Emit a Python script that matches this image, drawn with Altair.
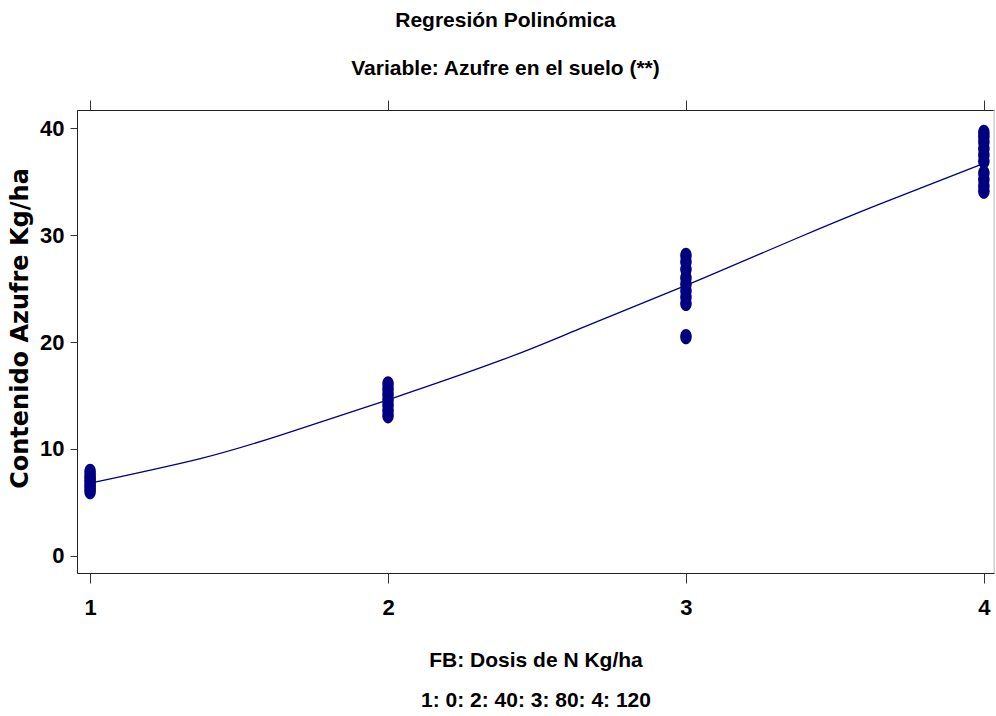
import altair as alt
import pandas as pd

# Observed data (FB dose level, sulphur content)
dosis = [1]*7 + [2]*7 + [3]*9 + [4]*10
azufre = [6.0, 6.3, 6.6, 6.9, 7.2, 7.5, 7.9,
          13.1, 13.6, 14.1, 14.6, 15.1, 15.6, 16.1,
          20.5, 23.6, 24.2, 24.8, 25.4, 26.0, 26.8, 27.5, 28.1,
          34.1, 34.6, 35.2, 35.8, 36.9, 37.5, 38.1, 38.7, 39.2, 39.6]

# Fitted polynomial curve
curva_x = [1, 1.37, 1.64, 2, 2.38, 2.64, 3, 3.38, 3.65, 4]
curva_y = [6.8, 9.1, 11.3, 14.6, 18.3, 21.2, 25.3, 29.8, 32.9, 36.7]

x_ticks = [1, 2, 3, 4]
y_ticks = [0, 10, 20, 30, 40]

pts = pd.DataFrame({"dosis": dosis, "azufre": azufre})
curve = pd.DataFrame({"dosis": curva_x, "azufre": curva_y})

W, H = 917, 463
FONT = "Liberation Sans"
NAVY = "#000080"

xscale = alt.Scale(domain=[0.956, 4.034], nice=False, zero=False)
yscale = alt.Scale(domain=[-1.6, 41.7], nice=False, zero=False)

ellipse = "M0,-1A0.76,1 0 1,1 0,1A0.76,1 0 1,1 0,-1Z"

y_axis = alt.Axis(orient="left", values=y_ticks, format="d",
                  tickSize=7, tickColor="#333333", domainColor="#222222",
                  labelFont=FONT, labelFontSize=22, labelFontWeight="bold",
                  labelColor="black", labelPadding=6, grid=False,
                  title="Contenido Azufre Kg/ha",
                  titleFont="DejaVu Sans", titleFontSize=24,
                  titleFontWeight="bold", titleColor="black",
                  titleX=-57, titleY=218, titleAngle=270,
                  titleBaseline="middle")

line = alt.Chart(curve).mark_line(
    color=NAVY, strokeWidth=1.3, interpolate="natural"
).encode(
    x=alt.X("dosis:Q", scale=xscale,
            axis=alt.Axis(orient="top", values=x_ticks, labels=False, title=None,
                          tickSize=10, tickColor="#333333", domainColor="#222222",
                          grid=False)),
    y=alt.Y("azufre:Q", scale=yscale, axis=y_axis),
)

points = alt.Chart(pts).mark_point(
    filled=True, shape=ellipse, size=230, color=NAVY, opacity=1
).encode(
    x=alt.X("dosis:Q", scale=xscale,
            axis=alt.Axis(orient="bottom", values=x_ticks, format="d",
                          tickSize=10, tickColor="#333333", domainColor="#222222",
                          labelFont=FONT, labelFontSize=22, labelFontWeight="bold",
                          labelColor="black", labelPadding=14, grid=False,
                          title=["FB: Dosis de N Kg/ha", "1: 0: 2: 40: 3: 80: 4: 120"],
                          titleFont=FONT, titleFontSize=21, titleFontWeight="bold",
                          titleColor="black", titleLineHeight=40,
                          titleBaseline="top", titleY=76, titleAnchor="middle")),
    y=alt.Y("azufre:Q", scale=yscale, axis=y_axis),
)

border = alt.Chart(pd.DataFrame({"a": [0]})).mark_rule(
    color="#c8c8c8", strokeWidth=1
).encode(x=alt.value(W), y=alt.value(0), y2=alt.value(H))

chart = alt.layer(line, points, border).resolve_axis(x="independent").properties(
    width=W, height=H,
    autosize=alt.AutoSizeParams(type="none"),
    padding={"left": 77, "top": 110, "right": 2, "bottom": 143},
    title=alt.TitleParams(
        text=["Regresión Polinómica", "Variable: Azufre en el suelo (**)"],
        font=FONT, fontSize=21, fontWeight="bold", color="black",
        lineHeight=48, anchor="middle", baseline="top", dx=-30, offset=21,
    ),
).configure_view(stroke=None).configure(background="white")

chart.save("out.html", embed_options={"renderer": "svg", "actions": False})
